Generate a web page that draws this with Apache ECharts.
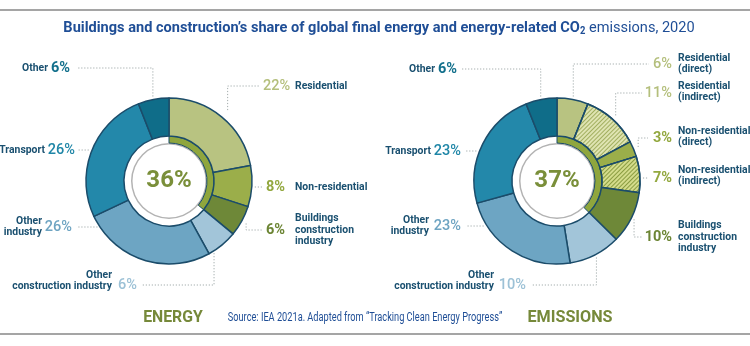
<!DOCTYPE html>
<html><head><meta charset="utf-8">
<script src="https://cdn.jsdelivr.net/npm/echarts@6/dist/echarts.min.js"></script>
<style>html,body{margin:0;padding:0;background:#fff}#c{width:750px;height:346px}</style>
</head><body><div id="c"></div>
<script>
// ---------- DATA ----------
const energyNames = ['Residential', 'Non-residential', 'Buildings\nconstruction\nindustry', 'Other\nconstruction industry', 'Other\nindustry', 'Transport', 'Other'];
const energyValues = [22, 8, 6, 6, 26, 26, 6];
const energyBuildingsShare = 36;
const emissionNames = ['Residential\n(direct)', 'Residential\n(indirect)', 'Non-residential\n(direct)', 'Non-residential\n(indirect)', 'Buildings\nconstruction\nindustry', 'Other\nconstruction industry', 'Other\nindustry', 'Transport', 'Other'];
const emissionValues = [6, 11, 3, 7, 10, 10, 23, 23, 6];
const emissionBuildingsShare = 37;
const panelTitles = ['ENERGY', 'EMISSIONS'];
const titleMain = 'Buildings and construction\u2019s share of global final energy and energy-related CO';
const titleSub = '2';
const titleEnd = ' emissions, 2020';
const sourceText = 'Source: IEA 2021a. Adapted from \u201cTracking Clean Energy Progress\u201d';

// ---------- STYLE ----------
const FONT = "Roboto,'Liberation Sans',sans-serif";
const NAVY = '#1b4c6a';
const NAME_COLOR = '#1a5070';
const LEADER = '#a2abab';
const TITLE_COLOR = '#1f4e96';
const energyColors = ['#b8c381', '#9bae4a', '#6e8838', '#a2c5d9', '#6da5c3', '#2388aa', '#0f6d89'];
const energyPctColors = ['#b4bf7c', '#93a83f', '#6c8534', '#9cc1d6', '#6ea4c2', '#1f86a7', '#13708c'];
const energyPctBold = [false, true, true, false, false, false, true];
const emissionColors = ['#b8c381', '#dfe4b2', '#9bae4a', '#d4dc8c', '#6e8838', '#a2c5d9', '#6da5c3', '#2388aa', '#0f6d89'];
const emissionHatch = [null, 'rgba(150,165,80,0.85)', null, 'rgba(125,145,50,0.85)', null, null, null, null, null];
const emissionPctColors = ['#b4bf7c', '#b4bf7c', '#93a83f', '#93a83f', '#6c8534', '#9cc1d6', '#6ea4c2', '#1f86a7', '#13708c'];
const emissionPctBold = [false, false, true, true, true, false, false, false, true];
const CENTER_COLOR = '#7a8f3a';
const R_OUT = 83, R_IN = 45, R_ARC = 38, R_GRAY = 36.5;
const energyCenter = [169, 181];
const emissionCenter = [557, 181];

// label layout: pct pos/align, name pos/align, leader kind, anchor radius, leader end x, angle offset
const energyLayout = [
  {px: 263, py: 86, pa: 'left', nx: 295, ny: 86, na: 'left', lead: 'L', r: 92, ex: 260},
  {px: 266, py: 187, pa: 'left', nx: 295, ny: 187, na: 'left', lead: 'H', r: 86, ex: 262},
  {px: 266, py: 230, pa: 'left', nx: 295, ny: 230, na: 'left', lead: 'L', r: 88, ex: 262},
  {px: 137, py: 285, pa: 'right', nx: 112, ny: 281, na: 'right', lead: 'L', r: 85, ex: 142, dA: 7.6},
  {px: 72, py: 227, pa: 'right', nx: 42, ny: 227, na: 'right', lead: 'H', r: 85, ex: 77},
  {px: 75, py: 150, pa: 'right', nx: 45, ny: 150, na: 'right', lead: 'H', r: 86, ex: 78},
  {px: 51, py: 68, pa: 'left', nx: 48, ny: 68, na: 'right', lead: 'L', r: 86, ex: 77}
];
const emissionLayout = [
  {px: 672, py: 64, pa: 'right', nx: 678, ny: 64, na: 'left', lead: 'L', r: 86, ex: 649},
  {px: 672, py: 93, pa: 'right', nx: 678, ny: 92, na: 'left', lead: 'L', r: 88, ex: 642},
  {px: 672, py: 138, pa: 'right', nx: 678, ny: 137, na: 'left', lead: 'L', r: 88, ex: 648},
  {px: 672, py: 178, pa: 'right', nx: 678, ny: 176, na: 'left', lead: 'H', r: 86, ex: 648},
  {px: 672, py: 237, pa: 'right', nx: 678, ny: 237, na: 'left', lead: 'L', r: 86, ex: 642},
  {px: 526, py: 285, pa: 'right', nx: 494, ny: 281, na: 'right', lead: 'L', r: 86, ex: 531},
  {px: 461, py: 226, pa: 'right', nx: 429, ny: 226, na: 'right', lead: 'H', r: 86, ex: 466},
  {px: 461, py: 151, pa: 'right', nx: 431, ny: 151, na: 'right', lead: 'H', r: 86, ex: 466},
  {px: 438, py: 69, pa: 'left', nx: 435, ny: 69, na: 'right', lead: 'L', r: 86, ex: 462}
];

function leaderPoints(center, values, idx, L) {
  const total = values.reduce((a, b) => a + b, 0);
  let cum = 0;
  for (let i = 0; i < idx; i++) cum += values[i];
  const deg = (cum + values[idx] / 2) / total * 360 + (L.dA || 0);
  const a = deg * Math.PI / 180;
  const cx = center[0], cy = center[1];
  if (L.lead === 'L') {
    const ax = cx + L.r * Math.sin(a), ay = cy - L.r * Math.cos(a);
    return [[ax, ay], [ax, L.py], [L.ex, L.py]];
  }
  const dy = L.py - cy;
  const dx = Math.sqrt(Math.max(0, L.r * L.r - dy * dy));
  const side = Math.sin(a) >= 0 ? 1 : -1;
  const x0 = cx + side * dx;
  return [[x0, L.py], [x0, L.py], [L.ex, L.py]];
}

function buildDonut(names, values, share, center, colors, hatch, pctColors, pctBold, layout) {
  const total = values.reduce((a, b) => a + b, 0);
  const ringData = values.map((v, i) => {
    const it = {
      value: v, name: names[i],
      itemStyle: {color: colors[i]},
      label: {color: pctColors[i], fontWeight: pctBold[i] ? 'bold' : 500}
    };
    if (hatch && hatch[i]) {
      it.itemStyle.decal = {symbol: 'rect', symbolSize: 1, color: hatch[i], dashArrayX: [1, 0], dashArrayY: [1, 2], rotation: -Math.PI / 4};
    }
    return it;
  });
  const ring = {
    type: 'pie', center: center, radius: [R_IN, R_OUT], startAngle: 90, clockwise: true,
    avoidLabelOverlap: false, silent: true, z: 3,
    itemStyle: {borderColor: NAVY, borderWidth: 1.5},
    label: {show: true, position: 'outside', fontFamily: FONT, fontSize: 14.5, formatter: p => p.value + '%'},
    labelLine: {show: true, lineStyle: {color: LEADER, width: 1, type: [1.2, 1.8]}},
    labelLayout: p => {
      const L = layout[p.dataIndex];
      return {x: L.px, y: L.py, align: L.pa, verticalAlign: 'middle', labelLinePoints: leaderPoints(center, values, p.dataIndex, L)};
    },
    data: ringData
  };
  const nameRing = {
    type: 'pie', center: center, radius: [R_IN, R_OUT], startAngle: 90, clockwise: true,
    avoidLabelOverlap: false, silent: true, z: 1,
    itemStyle: {color: 'rgba(0,0,0,0)', borderWidth: 0},
    label: {show: true, position: 'outside', fontFamily: FONT, fontSize: 10.4, fontWeight: 'bold', color: NAME_COLOR, lineHeight: 11.5, formatter: '{b}'},
    labelLine: {show: false},
    labelLayout: p => {
      const L = layout[p.dataIndex];
      return {x: L.nx, y: L.ny, align: L.na, verticalAlign: 'middle'};
    },
    data: values.map((v, i) => ({value: v, name: names[i]}))
  };
  const gray = {
    type: 'pie', center: center, radius: [R_GRAY, R_ARC], silent: true, z: 2,
    label: {show: false}, labelLine: {show: false},
    itemStyle: {color: '#b3b3b3'},
    data: [{value: 1}]
  };
  const arc = {
    type: 'pie', center: center, radius: [R_ARC, R_IN], startAngle: 90, clockwise: true, silent: true, z: 2,
    labelLine: {show: false},
    data: [
      {value: share, itemStyle: {color: '#8fa63d', borderColor: NAVY, borderWidth: 1},
       label: {show: true, position: 'center', formatter: share + '%', fontFamily: FONT, fontSize: 24, fontWeight: 'bold', color: CENTER_COLOR}},
      {value: total - share, itemStyle: {color: 'rgba(0,0,0,0)'}, label: {show: false}}
    ]
  };
  return [gray, arc, nameRing, ring];
}

const chart = echarts.init(document.getElementById('c'), null, {renderer: 'canvas'});
chart.setOption({
  animation: false,
  backgroundColor: '#ffffff',
  graphic: [
    {type: 'line', shape: {x1: 0, y1: 10, x2: 750, y2: 10}, style: {stroke: '#a5a5a5', lineWidth: 2}},
    {type: 'line', shape: {x1: 0, y1: 334, x2: 750, y2: 334}, style: {stroke: '#a5a5a5', lineWidth: 2}},
    {type: 'text', x: 379, y: 28, scaleX: 0.94,
     style: {text: '{b|' + titleMain + '}{s|' + titleSub + '}{n|' + titleEnd + '}',
       align: 'center', verticalAlign: 'middle', textAlign: 'center', textVerticalAlign: 'middle',
       rich: {
         b: {fontFamily: FONT, fontSize: 15.5, fontWeight: 'bold', fill: TITLE_COLOR, color: TITLE_COLOR},
         s: {fontFamily: FONT, fontSize: 10, fontWeight: 'bold', fill: TITLE_COLOR, color: TITLE_COLOR, padding: [7, 0, 0, 0]},
         n: {fontFamily: FONT, fontSize: 15.5, fontWeight: 'normal', fill: TITLE_COLOR, color: TITLE_COLOR}
       }}},
    {type: 'text', x: 173, y: 318, scaleX: 0.93, style: {text: panelTitles[0], font: 'bold 17px ' + FONT, fill: '#76893a', textAlign: 'center', textVerticalAlign: 'middle', align: 'center', verticalAlign: 'middle'}},
    {type: 'text', x: 570, y: 318, scaleX: 0.95, style: {text: panelTitles[1], font: 'bold 17px ' + FONT, fill: '#76893a', textAlign: 'center', textVerticalAlign: 'middle', align: 'center', verticalAlign: 'middle'}},
    {type: 'text', x: 365, y: 318, scaleX: 0.737, style: {text: sourceText, font: '12.5px ' + FONT, fill: '#1f4e96', textAlign: 'center', textVerticalAlign: 'middle', align: 'center', verticalAlign: 'middle'}}
  ],
  series: [
    ...buildDonut(energyNames, energyValues, energyBuildingsShare, energyCenter, energyColors, null, energyPctColors, energyPctBold, energyLayout),
    ...buildDonut(emissionNames, emissionValues, emissionBuildingsShare, emissionCenter, emissionColors, emissionHatch, emissionPctColors, emissionPctBold, emissionLayout)
  ]
});
</script>
</body></html>
